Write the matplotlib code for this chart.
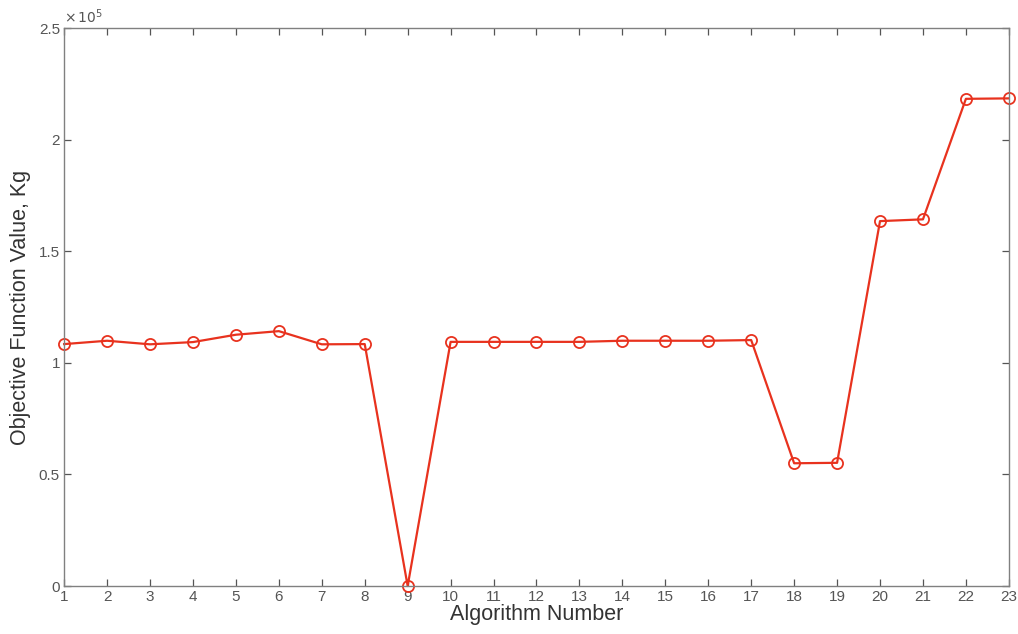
import matplotlib
matplotlib.use("Agg")
import matplotlib.pyplot as plt
from matplotlib.ticker import FuncFormatter

plt.rcParams["font.family"] = ["Liberation Sans", "DejaVu Sans"]

# Objective function value (kg) for each algorithm
algorithms = list(range(1, 24))
values = [
    108400, 109900, 108300, 109300, 112600, 114200, 108300, 108400,
    0,
    109400, 109400, 109400, 109400, 109900, 109900, 109900, 110200,
    55000, 55200,
    163500, 164300, 218300, 218500,
]
y_ticks = [0, 50000, 100000, 150000, 200000, 250000]

fig = plt.figure(figsize=(10.18, 6.34), dpi=100)
ax = fig.add_axes([0.063, 0.0757, 0.928, 0.880])

ax.plot(algorithms, values, color="#e8321e", linewidth=1.6,
        marker="o", markersize=8, markerfacecolor="none",
        markeredgecolor="#e8321e", markeredgewidth=1.3, clip_on=False)

ax.set_xlim(1, 23)
ax.set_ylim(0, 250000)
ax.set_xticks(algorithms)
ax.set_yticks(y_ticks)
ax.yaxis.set_major_formatter(FuncFormatter(lambda v, p: f"{v / 1e5:g}"))

for s in ax.spines.values():
    s.set_color("#808080")
    s.set_linewidth(1.0)
ax.tick_params(direction="in", top=True, right=True, length=5,
               color="#555555", labelcolor="#555555", labelsize=11,
               width=0.9)
ax.tick_params(axis="x", pad=3)
ax.tick_params(axis="y", pad=3)

ax.text(0.0, 1.003, r"$\times\,10^5$", transform=ax.transAxes,
        fontsize=10, color="#555555", ha="left", va="bottom")

ax.set_xlabel("Algorithm Number", fontsize=15.5, color="#333333", labelpad=0)
ax.set_ylabel("Objective Function Value, Kg", fontsize=15.5, color="#333333",
              labelpad=6)

fig.savefig("out.png", dpi=100)
